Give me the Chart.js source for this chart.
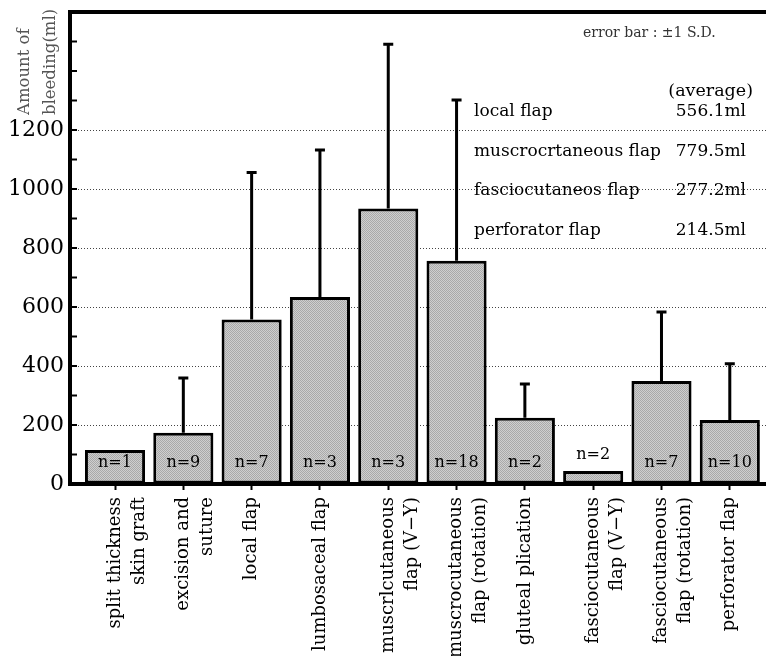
<!DOCTYPE html>
<html>
<head>
<meta charset="utf-8">
<script src="https://cdn.jsdelivr.net/npm/chart.js@4.4.1/dist/chart.umd.min.js"></script>
<style>
  html, body { margin: 0; padding: 0; background: #fff; }
  #wrap { width: 766px; height: 656px; }
</style>
</head>
<body>
<div id="wrap"><canvas id="c" width="766" height="656"></canvas></div>
<script>
// ---- data ----
const categories = [
  ["split thickness", "skin graft"],
  ["excision and", "suture"],
  "local flap",
  "lumbosaceal flap",
  ["muscrlcutaneous", "flap (V\u2212Y)"],
  ["muscrocutaneous", "flap (rotation)"],
  "gluteal plication",
  ["fasciocutaneous", "flap (V\u2212Y)"],
  ["fasciocutaneous", "flap (rotation)"],
  "perforator flap"
];
const meanBleeding = [115, 174, 558, 634, 934, 757, 225, 44, 349, 217];
const sdBleeding   = [null, 185, 498, 498, 557, 545, 114, null, 234, 191];
const nCounts      = [1, 9, 7, 3, 3, 18, 2, 2, 7, 10];
const yTickLabels  = [0, 200, 400, 600, 800, 1000, 1200];
const legendNames  = ["local flap", "muscrocrtaneous flap", "fasciocutaneos flap", "perforator flap"];
const legendValues = ["556.1ml", "779.5ml", "277.2ml", "214.5ml"];
const yTitle = ["Amount of", "bleeding(ml)"];
const errorNote = "error bar : \u00B11 S.D.";
const avgHeader = "(average)";

const SERIF = '"DejaVu Serif", "Liberation Serif", serif';

// halftone-like fill pattern
function makePattern() {
  const p = document.createElement('canvas');
  p.width = 4; p.height = 4;
  const g = p.getContext('2d');
  g.fillStyle = '#cfcfcf'; g.fillRect(0, 0, 4, 4);
  g.fillStyle = '#a9a9a9';
  g.fillRect(0, 0, 1, 1); g.fillRect(2, 0, 1, 1);
  g.fillRect(1, 1, 1, 1); g.fillRect(3, 1, 1, 1);
  g.fillRect(0, 2, 1, 1); g.fillRect(2, 2, 1, 1);
  g.fillRect(1, 3, 1, 1); g.fillRect(3, 3, 1, 1);
  return document.getElementById('c').getContext('2d').createPattern(p, 'repeat');
}

const decor = {
  id: 'decor',
  beforeDraw(chart) {
    const ctx = chart.ctx;
    ctx.save();
    ctx.fillStyle = '#fff';
    ctx.fillRect(0, 0, chart.width, chart.height);
    ctx.restore();
  },
  afterDatasetsDraw(chart) {
    const ctx = chart.ctx;
    const ys = chart.scales.y;
    const area = chart.chartArea;
    const meta = chart.getDatasetMeta(0);
    ctx.save();
    // error bars
    ctx.strokeStyle = '#000';
    ctx.lineWidth = 3;
    meta.data.forEach((bar, i) => {
      const sd = sdBleeding[i];
      if (sd == null) return;
      const yTop = ys.getPixelForValue(meanBleeding[i] + sd);
      const yBase = ys.getPixelForValue(meanBleeding[i]);
      ctx.beginPath();
      ctx.moveTo(bar.x, yBase);
      ctx.lineTo(bar.x, yTop);
      ctx.moveTo(bar.x - 5, yTop);
      ctx.lineTo(bar.x + 5, yTop);
      ctx.stroke();
    });
    // n labels
    ctx.fillStyle = '#000';
    ctx.font = '16px ' + SERIF;
    ctx.textAlign = 'center';
    ctx.textBaseline = 'middle';
    meta.data.forEach((bar, i) => {
      let y = ys.getPixelForValue(0) - 21;
      const top = ys.getPixelForValue(meanBleeding[i]);
      if (top > y - 10) y = top - 16;
      ctx.fillText('n=' + nCounts[i], bar.x, y);
    });
    // top border
    ctx.strokeStyle = '#000';
    ctx.lineWidth = 4;
    ctx.beginPath();
    ctx.moveTo(area.left - 2, area.top);
    ctx.lineTo(area.right, area.top);
    ctx.stroke();
    // inner minor ticks on y axis
    ctx.lineWidth = 2;
    ys.ticks.forEach(t => {
      if (t.value <= 0 || t.value >= ys.max) return;
      const y = ys.getPixelForValue(t.value);
      ctx.beginPath();
      ctx.moveTo(area.left, y);
      ctx.lineTo(area.left + 7, y);
      ctx.stroke();
    });
    // y-axis title
    ctx.fillStyle = '#555';
    ctx.font = '16.5px ' + SERIF;
    ctx.textAlign = 'left';
    ctx.textBaseline = 'middle';
    yTitle.forEach((line, i) => {
      ctx.save();
      ctx.translate(25 + i * 26, 115);
      ctx.rotate(-Math.PI / 2);
      ctx.fillText(line, 0, 0);
      ctx.restore();
    });
    // notes / average legend
    ctx.fillStyle = '#333';
    ctx.font = '14px ' + SERIF;
    ctx.textAlign = 'left';
    ctx.fillText(errorNote, 583, 33);
    ctx.fillStyle = '#000';
    ctx.font = '17.5px ' + SERIF;
    ctx.textAlign = 'right';
    ctx.fillText(avgHeader, 753, 91);
    ctx.font = '17px ' + SERIF;
    legendNames.forEach((name, i) => {
      const y = 112 + i * 39.5;
      ctx.textAlign = 'left';
      ctx.fillText(name, 474, y);
      ctx.textAlign = 'right';
      ctx.fillText(legendValues[i], 746, y);
    });
    ctx.restore();
  }
};

const chart = new Chart(document.getElementById('c'), {
  type: 'bar',
  data: {
    datasets: [{
      data: meanBleeding.map((v, i) => ({ x: i, y: v })),
      backgroundColor: makePattern(),
      borderColor: '#000',
      borderWidth: 3,
      borderSkipped: false,
      barPercentage: 0.88,
      categoryPercentage: 1.0
    }]
  },
  options: {
    responsive: false,
    animation: false,
    devicePixelRatio: 1,
    layout: { padding: { top: 12, left: 0, right: 0, bottom: 0 } },
    plugins: { legend: { display: false }, tooltip: { enabled: false }, title: { display: false } },
    scales: {
      x: {
        type: 'linear',
        offset: false,
        min: -0.659,
        max: 9.53,
        afterBuildTicks: (scale) => { scale.ticks = categories.map((c, i) => ({ value: i })); },
        afterFit: (scale) => {
          scale.height = 172;
          scale.paddingLeft = 0; scale.paddingRight = 0;
        },
        ticks: {
          autoSkip: false,
          minRotation: 90,
          maxRotation: 90,
          padding: 7,
          color: '#000',
          font: { family: SERIF, size: 18, lineHeight: 1.33 },
          callback: (v, idx) => categories[idx]
        },
        grid: { offset: false, drawOnChartArea: false, drawTicks: true, tickLength: 6, tickColor: '#000', tickWidth: 2 },
        border: { display: true, color: '#000', width: 4 }
      },
      y: {
        min: 0,
        max: 1600,
        afterBuildTicks: (scale) => {
          const t = [];
          for (let v = 0; v <= 1600; v += 100) t.push({ value: v });
          scale.ticks = t;
        },
        afterFit: (scale) => {
          scale.width = 70;
          scale.paddingTop = 0; scale.paddingBottom = 0;
        },
        ticks: {
          autoSkip: false,
          padding: 6,
          color: '#000',
          font: { family: SERIF, size: 22 },
          callback: (v) => (yTickLabels.includes(v) ? String(v) : '')
        },
        grid: {
          drawTicks: false,
          lineWidth: 1,
          color: (ctx) => {
            const v = ctx.tick ? ctx.tick.value : -1;
            return (v > 0 && yTickLabels.includes(v)) ? '#444' : 'rgba(0,0,0,0)';
          }
        },
        border: { display: true, color: '#000', width: 4, dash: [1, 2] }
      }
    }
  },
  plugins: [decor]
});
</script>
</body>
</html>
